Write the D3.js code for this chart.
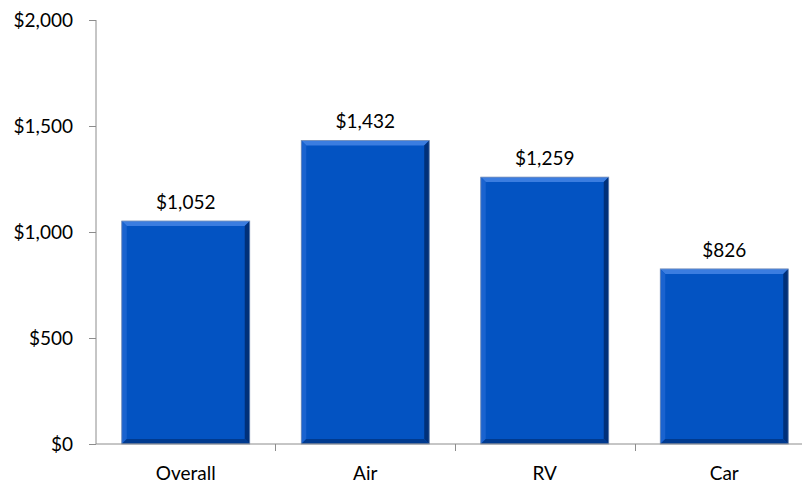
<!DOCTYPE html>
<html>
<head>
<meta charset="utf-8">
<script src="https://cdn.jsdelivr.net/npm/d3@7"></script>
<style>
  body { margin: 0; background: #fff; }
  text { font-family: Lato, "Open Sans", sans-serif; fill: #000; }
</style>
</head>
<body>
<div id="chart"></div>
<script>
// Data
var categories = ["Overall", "Air", "RV", "Car"];
var costs = [1052, 1432, 1259, 826];
var yTicks = [0, 500, 1000, 1500, 2000];

var svgWidth = 802;
var svgHeight = 485;
var margin = { top: 20, right: -12, bottom: 41, left: 96 };
var width = svgWidth - margin.left - margin.right;
var height = svgHeight - margin.top - margin.bottom;

var svg = d3.select("#chart").append("svg")
  .attr("width", svgWidth)
  .attr("height", svgHeight);

var chartGroup = svg.append("g")
  .attr("transform", `translate(${margin.left}, ${margin.top})`);

var xScale = d3.scaleBand()
  .domain(categories)
  .range([0, width])
  .paddingInner(0.287)
  .paddingOuter(0.1435);

var yScale = d3.scaleLinear()
  .domain([0, 2000])
  .range([height, 0]);

var fmt = d3.format("$,");

// y axis
var leftAxis = d3.axisLeft(yScale).tickValues(yTicks).tickSize(7).tickFormat(fmt);
var yAxisG = chartGroup.append("g").call(leftAxis);
yAxisG.select(".domain").attr("stroke", "#8c8c8c").attr("d", `M0,0V${height}`);
yAxisG.selectAll(".tick line").attr("stroke", "#8c8c8c");
yAxisG.selectAll(".tick text").attr("font-size", "19px").attr("x", -23)
  .style("font-family", "Lato, sans-serif");

// bars with bevel
var bev = 5;
var barGroups = chartGroup.selectAll(".bar")
  .data(categories)
  .enter()
  .append("g")
  .attr("class", "bar");

barGroups.each(function (c, i) {
  var g = d3.select(this);
  var x0 = xScale(c), x1 = x0 + xScale.bandwidth();
  var y0 = yScale(costs[i]), y1 = yScale(0);
  g.append("rect").attr("x", x0).attr("y", y0)
    .attr("width", x1 - x0).attr("height", y1 - y0)
    .attr("fill", "#0353c2");
  // top
  g.append("polygon").attr("points",
    [[x0, y0], [x1, y0], [x1 - bev, y0 + bev], [x0 + bev, y0 + bev]].join(" "))
    .attr("fill", "#3b7de0");
  // left
  g.append("polygon").attr("points",
    [[x0, y0], [x0 + bev, y0 + bev], [x0 + bev, y1 - bev], [x0, y1]].join(" "))
    .attr("fill", "#1a63cf");
  // right
  g.append("polygon").attr("points",
    [[x1, y0], [x1, y1], [x1 - bev, y1 - bev], [x1 - bev, y0 + bev]].join(" "))
    .attr("fill", "#00307a");
  // bottom
  g.append("polygon").attr("points",
    [[x0, y1], [x1, y1], [x1 - bev, y1 - bev], [x0 + bev, y1 - bev]].join(" "))
    .attr("fill", "#003a8f");
  g.append("rect").attr("x", x0).attr("y", y0)
    .attr("width", x1 - x0).attr("height", y1 - y0)
    .attr("fill", "none").attr("stroke", "#7f94b8").attr("stroke-width", 0.8);
});

// x axis
var xAxisG = chartGroup.append("g").attr("transform", `translate(0, ${height})`);
xAxisG.append("line").attr("x1", 0).attr("x2", 706)
  .attr("stroke", "#8c8c8c");
var step = xScale.step();
var startX = xScale(categories[0]) - xScale.paddingInner() * step / 2;
categories.forEach(function (c, i) {
  var tx = Math.round(startX + step * (i + 1)) + 0.5;
  if (i < categories.length - 1) {
    xAxisG.append("line").attr("x1", tx).attr("x2", tx)
      .attr("y1", 0).attr("y2", 7).attr("stroke", "#8c8c8c");
  }
  xAxisG.append("text")
    .attr("x", xScale(c) + xScale.bandwidth() / 2)
    .attr("y", 36)
    .attr("text-anchor", "middle")
    .attr("font-size", "19px")
    .text(c);
});

// value labels
chartGroup.selectAll(".val")
  .data(categories)
  .enter()
  .append("text")
  .attr("class", "val")
  .attr("x", d => xScale(d) + xScale.bandwidth() / 2)
  .attr("y", (d, i) => yScale(costs[i]) - 12)
  .attr("text-anchor", "middle")
  .attr("font-size", "19px")
  .text((d, i) => fmt(costs[i]));
</script>
</body>
</html>
